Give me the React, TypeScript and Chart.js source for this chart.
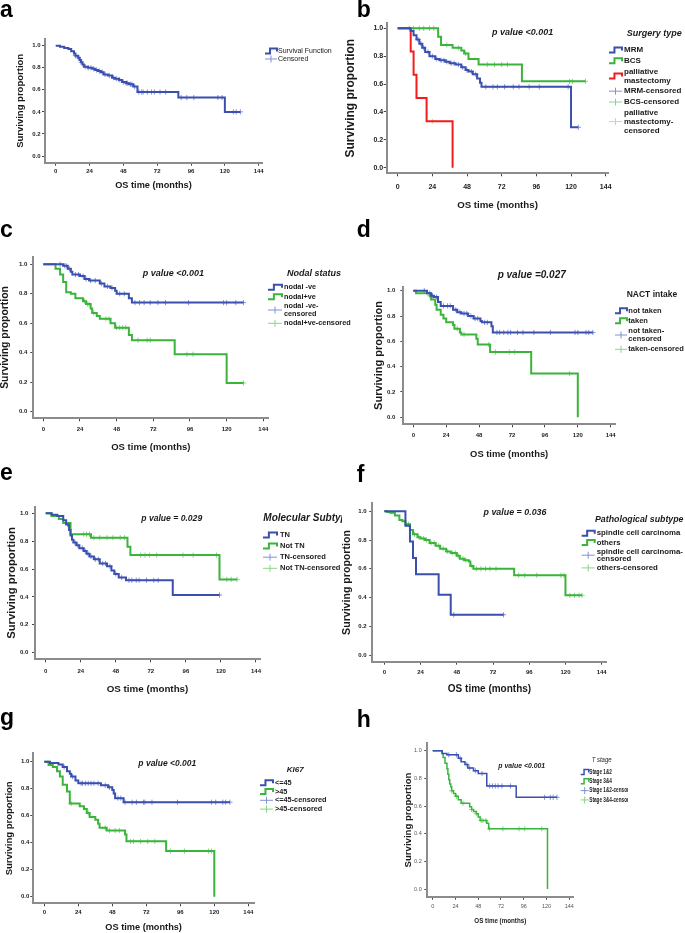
import React, { useEffect, useRef } from 'react';
import { Chart, registerables } from 'chart.js';

Chart.register(...registerables);

const FONT = "'Liberation Sans', Arial, Helvetica, sans-serif";

const X_TICKS = [0, 24, 48, 72, 96, 120, 144];
const Y_TICKS = [0, 0.2, 0.4, 0.6, 0.8, 1.0];
const X_TITLE = 'OS time (months)';
const Y_TITLE = 'Surviving proportion';

// ---------- a: overall survival ----------
const A_T = [0, 3, 6, 9, 11, 13, 14, 16, 17, 18, 19, 20, 23, 26, 28, 30, 32, 34, 37, 40, 42, 45, 47, 50, 52, 55, 58, 87, 120];
const A_S = [1, 0.99, 0.98, 0.97, 0.95, 0.93, 0.91, 0.89, 0.87, 0.85, 0.83, 0.81, 0.8, 0.79, 0.78, 0.77, 0.76, 0.74, 0.73, 0.71, 0.7, 0.69, 0.67, 0.66, 0.65, 0.63, 0.58, 0.53, 0.4];
const A_C = [14, 16, 18, 21, 23, 25, 27, 29, 31, 33, 35, 38, 41, 43, 45, 48, 50, 51, 53, 54, 56, 59, 61, 62, 65, 68, 70, 74, 78, 89, 93, 98, 115, 118, 126, 128, 131];

// ---------- b: surgery type ----------
const B_MRM_T = [0, 9, 11, 13, 15, 17, 19, 22, 26, 29, 33, 36, 40, 44, 47, 49, 52, 55, 57, 58, 120];
const B_MRM_S = [1, 0.98, 0.95, 0.92, 0.89, 0.86, 0.83, 0.8, 0.78, 0.77, 0.76, 0.75, 0.74, 0.72, 0.7, 0.69, 0.67, 0.64, 0.61, 0.58, 0.29];
const B_MRM_C = [14, 16, 18, 21, 24, 27, 30, 32, 34, 37, 39, 42, 45, 48, 51, 54, 61, 66, 69, 74, 80, 84, 91, 98, 118, 125];
const B_BCS_T = [0, 28, 30, 38, 44, 46, 49, 56, 86];
const B_BCS_S = [1, 0.94, 0.88, 0.86, 0.84, 0.82, 0.78, 0.74, 0.62];
const B_BCS_C = [8, 11, 15, 18, 22, 25, 34, 42, 47, 62, 67, 72, 76, 119, 121, 130];
const B_PAL_T = [0, 9, 11, 13, 20, 38];
const B_PAL_S = [1, 0.833, 0.667, 0.5, 0.333, 0];
const B_PAL_C = [24];

// ---------- c: nodal status ----------
const C_NEG_T = [0, 13, 16, 18, 19, 24, 27, 30, 37, 40, 44, 47, 48, 56, 58];
const C_NEG_S = [1, 0.99, 0.97, 0.95, 0.93, 0.92, 0.9, 0.89, 0.87, 0.85, 0.84, 0.82, 0.8, 0.77, 0.74];
const C_NEG_C = [11, 14, 15, 17, 21, 23, 26, 28, 31, 34, 38, 42, 45, 50, 53, 60, 63, 66, 70, 75, 80, 95, 118, 120, 126, 131];
const C_POS_T = [0, 8, 11, 13, 15, 18, 21, 26, 28, 31, 32, 35, 37, 44, 47, 56, 58, 86, 120];
const C_POS_S = [1, 0.97, 0.93, 0.88, 0.81, 0.8, 0.77, 0.75, 0.73, 0.7, 0.67, 0.65, 0.63, 0.6, 0.57, 0.52, 0.485, 0.39, 0.195];
const C_POS_C = [27, 29, 30, 33, 41, 43, 48, 50, 52, 54, 62, 68, 70, 94, 98, 131];

// ---------- d: NACT intake ----------
const D_NOT_T = [0, 10, 13, 15, 18, 20, 29, 32, 35, 40, 44, 49, 50, 57, 58];
const D_NOT_S = [1, 0.98, 0.96, 0.95, 0.91, 0.88, 0.85, 0.83, 0.82, 0.8, 0.78, 0.76, 0.75, 0.72, 0.67];
const D_NOT_C = [8, 12, 14, 17, 22, 25, 27, 31, 34, 37, 39, 42, 45, 47, 52, 54, 61, 63, 66, 69, 71, 76, 80, 88, 100, 118, 120, 126, 128, 131];
const D_TAK_T = [0, 2, 12, 13, 16, 17, 20, 22, 24, 29, 30, 34, 35, 46, 47, 56, 86, 120];
const D_TAK_S = [1, 0.98, 0.96, 0.93, 0.89, 0.85, 0.81, 0.78, 0.75, 0.73, 0.7, 0.67, 0.655, 0.62, 0.575, 0.515, 0.345, 0];
const D_TAK_C = [12, 32, 37, 55, 60, 70, 74, 114];

// ---------- e: molecular subtype ----------
const E_TN_T = [0, 4, 8, 12, 14, 16, 17, 18, 19, 21, 23, 26, 28, 30, 33, 37, 42, 45, 47, 50, 55, 87];
const E_TN_S = [1, 0.99, 0.98, 0.95, 0.92, 0.88, 0.84, 0.81, 0.79, 0.77, 0.75, 0.73, 0.71, 0.69, 0.67, 0.64, 0.62, 0.59, 0.565, 0.54, 0.52, 0.414];
const E_TN_C = [15, 20, 22, 25, 27, 29, 31, 34, 36, 39, 41, 44, 48, 52, 57, 59, 62, 64, 69, 74, 77, 119];
const E_NTN_T = [0, 4, 9, 12, 17, 31, 56, 58, 119];
const E_NTN_S = [1, 0.98, 0.96, 0.93, 0.85, 0.825, 0.76, 0.7, 0.526];
const E_NTN_C = [26, 28, 30, 33, 37, 42, 46, 51, 54, 65, 68, 71, 76, 94, 101, 117, 124, 127, 131];

// ---------- f: pathological subtype ----------
const F_SP_T = [0, 14, 17, 19, 21, 36, 44];
const F_SP_S = [1, 0.9, 0.79, 0.675, 0.5625, 0.42, 0.28];
const F_SP_C = [46, 79];
const F_OT_T = [0, 2, 4, 7, 10, 12, 14, 17, 19, 22, 24, 27, 30, 34, 37, 41, 44, 48, 50, 53, 56, 57, 59, 86, 120];
const F_OT_S = [1, 0.995, 0.99, 0.97, 0.94, 0.93, 0.91, 0.87, 0.84, 0.82, 0.81, 0.8, 0.78, 0.76, 0.74, 0.72, 0.71, 0.69, 0.67, 0.66, 0.65, 0.62, 0.6, 0.555, 0.415];
const F_OT_C = [16, 20, 23, 26, 28, 31, 33, 36, 39, 42, 45, 47, 49, 52, 54, 58, 61, 64, 67, 70, 74, 89, 93, 101, 117, 119, 123, 126, 129, 131];

// ---------- g: KI67 ----------
const G_LE_T = [0, 4, 10, 13, 16, 18, 19, 22, 24, 40, 45, 48, 49, 50, 56];
const G_LE_S = [1, 0.99, 0.98, 0.96, 0.93, 0.91, 0.89, 0.86, 0.84, 0.825, 0.81, 0.79, 0.765, 0.73, 0.7];
const G_LE_C = [14, 20, 26, 27, 29, 31, 33, 35, 38, 43, 46, 52, 54, 57, 62, 65, 70, 71, 76, 94, 118, 121, 126, 128, 131];
const G_GT_T = [0, 3, 6, 9, 11, 13, 16, 18, 25, 28, 30, 32, 36, 38, 39, 44, 57, 58, 86, 120];
const G_GT_S = [1, 0.975, 0.96, 0.93, 0.89, 0.83, 0.78, 0.69, 0.67, 0.65, 0.62, 0.59, 0.57, 0.54, 0.51, 0.49, 0.46, 0.41, 0.338, 0];
const G_GT_C = [19, 31, 43, 46, 50, 53, 61, 63, 68, 73, 78, 89, 99, 116, 118];

// ---------- h: T stage ----------
const H_12_T = [0, 10, 15, 27, 30, 34, 37, 43, 48, 57, 88];
const H_12_S = [1, 0.98, 0.97, 0.945, 0.92, 0.9, 0.875, 0.855, 0.835, 0.745, 0.663];
const H_12_C = [17, 25, 29, 36, 39, 45, 52, 60, 63, 66, 69, 73, 82, 118, 124, 127, 131];
const H_34_T = [0, 10, 11, 13, 15, 16, 17, 18, 19, 20, 22, 24, 27, 30, 39, 41, 43, 46, 48, 50, 57, 59, 121];
const H_34_S = [1, 0.98, 0.95, 0.91, 0.87, 0.83, 0.79, 0.76, 0.74, 0.71, 0.69, 0.67, 0.645, 0.62, 0.595, 0.575, 0.56, 0.545, 0.52, 0.495, 0.475, 0.435, 0];
const H_34_C = [20, 25, 32, 41, 46, 51, 53, 56, 60, 74, 91, 97, 115];

// ---------- colours ----------
const BLUE = '#3a4fae';
const BLUE_C = '#8092da';
const GREEN = '#3ab43a';
const GREEN_C = '#86d686';
const RED = '#f21c1c';
const TAN_C = '#dccf9c';
const AXIS = '#8c8c8c';
const TICK = '#444444';
const INK = '#1a1a1a';

function survAt(t: number[], s: number[], x: number) {
  let v = s[0];
  for (let i = 0; i < t.length; i++) if (t[i] <= x) v = s[i];
  return v;
}

function linePoints(g: any) {
  const pts = g.t.map((t: number, i: number) => ({ x: t, y: g.s[i] }));
  const lastT = g.t[g.t.length - 1];
  const end = Math.max(lastT, ...g.c);
  if (end > lastT) pts.push({ x: end, y: g.s[g.s.length - 1] });
  return pts;
}

const grp = (t: number[], s: number[], c: number[], color: string, censColor: string) => ({ t, s, c, color, censColor });

const PANELS: any[] = [
  {
    letter: 'a', letterX: 0, letterY: 17,
    canvas: [0, 0, 345, 230],
    geo: { L: 45, R: 262, T: 39, B: 162.7, x0: 55.7, x144: 258.7, y1: 45.7, y0: 156 },
    ticks: { size: 6, weight: 'bold', color: '#222', yGap: 4.3, xOff: 9 },
    xTitle: { y: 185.7, size: 9.2 }, yTitle: { x: 20, size: 9.5 },
    lineW: 2,
    groups: [grp(A_T, A_S, A_C, BLUE, BLUE_C)],
    pValue: null,
    legend: {
      title: null,
      glyphX: 265, glyphW: 12, textX: 278, y0: 51, lh: 8, gap: 0, font: `7px ${FONT}`, sx: 1,
      items: [
        { kind: 'step', color: BLUE, lines: ['Survival Function'] },
        { kind: 'cens', color: BLUE_C, lines: ['Censored'] },
      ],
    },
  },
  {
    letter: 'b', letterX: 356.7, letterY: 16.7,
    canvas: [340, 0, 345, 230],
    geo: { L: 386.7, R: 608.3, T: 23, B: 173.3, x0: 397.7, x144: 605.7, y1: 28.3, y0: 167.7 },
    ticks: { size: 7, weight: 'bold', color: '#222', yGap: 3.5, xOff: 13.4 },
    xTitle: { y: 205.7, size: 9.7 }, yTitle: { x: 351, size: 12 },
    lineW: 2,
    groups: [
      grp(B_MRM_T, B_MRM_S, B_MRM_C, BLUE, BLUE_C),
      grp(B_BCS_T, B_BCS_S, B_BCS_C, GREEN, GREEN_C),
      grp(B_PAL_T, B_PAL_S, B_PAL_C, RED, TAN_C),
    ],
    pValue: { text: 'p value <0.001', x: 522.7, y: 32.3, font: `italic bold 9px ${FONT}`, sx: 1 },
    legend: {
      title: { text: 'Surgery type', x: 626.7, y: 33.3, font: `italic bold 9px ${FONT}`, sx: 1 },
      glyphX: 609, glyphW: 13, textX: 624, y0: 50, lh: 8.8, gap: 2, font: `bold 8px ${FONT}`, sx: 1,
      items: [
        { kind: 'step', color: BLUE, lines: ['MRM'] },
        { kind: 'step', color: GREEN, lines: ['BCS'] },
        { kind: 'step', color: RED, lines: ['palliative', 'mastectomy'] },
        { kind: 'cens', color: BLUE_C, lines: ['MRM-censored'] },
        { kind: 'cens', color: GREEN_C, lines: ['BCS-censored'] },
        { kind: 'cens', color: TAN_C, lines: ['palliative', 'mastectomy-', 'censored'] },
      ],
    },
  },
  {
    letter: 'c', letterX: 0, letterY: 236.5,
    canvas: [0, 212, 352, 248],
    geo: { L: 33.3, R: 268.3, T: 256.7, B: 418.3, x0: 43.3, x144: 263.3, y1: 264.3, y0: 411.7 },
    ticks: { size: 6, weight: 'bold', color: '#222', yGap: 6, xOff: 10.7 },
    xTitle: { y: 447, size: 9.5 }, yTitle: { x: 5.5, size: 10.4 },
    lineW: 2,
    groups: [
      grp(C_NEG_T, C_NEG_S, C_NEG_C, BLUE, BLUE_C),
      grp(C_POS_T, C_POS_S, C_POS_C, GREEN, GREEN_C),
    ],
    pValue: { text: 'p value <0.001', x: 173.3, y: 273.3, font: `italic bold 9px ${FONT}`, sx: 1 },
    legend: {
      title: { text: 'Nodal status', x: 287, y: 274, font: `italic bold 9px ${FONT}`, sx: 1 },
      glyphX: 268, glyphW: 14, textX: 284, y0: 287.3, lh: 7.8, gap: 1.6, font: `bold 7.3px ${FONT}`, sx: 1,
      items: [
        { kind: 'step', color: BLUE, lines: ['nodal -ve'] },
        { kind: 'step', color: GREEN, lines: ['nodal+ve'] },
        { kind: 'cens', color: BLUE_C, lines: ['nodal -ve-', 'censored'] },
        { kind: 'cens', color: GREEN_C, lines: ['nodal+ve-censored'] },
      ],
    },
  },
  {
    letter: 'd', letterX: 356.7, letterY: 236.7,
    canvas: [350, 212, 335, 248],
    geo: { L: 403.3, R: 615, T: 286.7, B: 424.3, x0: 413.3, x144: 610.7, y1: 290.7, y0: 417.3 },
    ticks: { size: 6, weight: 'bold', color: '#222', yGap: 8, xOff: 11.4 },
    xTitle: { y: 454, size: 9.4 }, yTitle: { x: 379.3, size: 11 },
    lineW: 2,
    groups: [
      grp(D_NOT_T, D_NOT_S, D_NOT_C, BLUE, BLUE_C),
      grp(D_TAK_T, D_TAK_S, D_TAK_C, GREEN, GREEN_C),
    ],
    pValue: { text: 'p value =0.027', x: 531.7, y: 275, font: `italic bold 10px ${FONT}`, sx: 1 },
    legend: {
      title: { text: 'NACT intake', x: 626.7, y: 295, font: `bold 8.5px ${FONT}`, sx: 1 },
      glyphX: 615, glyphW: 12, textX: 628.3, y0: 310.7, lh: 8.6, gap: 1.4, font: `bold 7.5px ${FONT}`, sx: 1,
      items: [
        { kind: 'step', color: BLUE, lines: ['not taken'] },
        { kind: 'step', color: GREEN, lines: ['taken'] },
        { kind: 'cens', color: BLUE_C, lines: ['not taken-', 'censored'] },
        { kind: 'cens', color: GREEN_C, lines: ['taken-censored'] },
      ],
    },
  },
  {
    letter: 'e', letterX: 0, letterY: 480,
    canvas: [0, 450, 342, 250],
    geo: { L: 35, R: 260, T: 506.7, B: 659.3, x0: 45.7, x144: 256, y1: 513.3, y0: 652.7 },
    ticks: { size: 6, weight: 'bold', color: '#222', yGap: 6.7, xOff: 12.4 },
    xTitle: { y: 689, size: 9.8 }, yTitle: { x: 11.7, size: 11.3 },
    lineW: 2,
    groups: [
      grp(E_TN_T, E_TN_S, E_TN_C, BLUE, BLUE_C),
      grp(E_NTN_T, E_NTN_S, E_NTN_C, GREEN, GREEN_C),
    ],
    pValue: { text: 'p value = 0.029', x: 171.7, y: 519, font: `italic bold 8.6px ${FONT}`, sx: 1 },
    legend: {
      title: { text: 'Molecular Subtype', x: 263.3, y: 518.3, font: `italic bold 10px ${FONT}`, sx: 1 },
      glyphX: 263, glyphW: 14, textX: 280, y0: 535, lh: 11.1, gap: 0, font: `bold 7.5px ${FONT}`, sx: 1,
      items: [
        { kind: 'step', color: BLUE, lines: ['TN'] },
        { kind: 'step', color: GREEN, lines: ['Not TN'] },
        { kind: 'cens', color: BLUE_C, lines: ['TN-censored'] },
        { kind: 'cens', color: GREEN_C, lines: ['Not TN-censored'] },
      ],
    },
  },
  {
    letter: 'f', letterX: 356.7, letterY: 481.7,
    canvas: [342, 450, 343, 250],
    geo: { L: 372.3, R: 606.7, T: 503.3, B: 661.7, x0: 384.3, x144: 601.7, y1: 511.3, y0: 655 },
    ticks: { size: 6, weight: 'bold', color: '#222', yGap: 5.6, xOff: 11 },
    xTitle: { y: 689, size: 10 }, yTitle: { x: 347.3, size: 10.6 },
    lineW: 2,
    groups: [
      grp(F_SP_T, F_SP_S, F_SP_C, BLUE, BLUE_C),
      grp(F_OT_T, F_OT_S, F_OT_C, GREEN, GREEN_C),
    ],
    pValue: { text: 'p value = 0.036', x: 515, y: 512.3, font: `italic bold 8.9px ${FONT}`, sx: 1 },
    legend: {
      title: { text: 'Pathological subtype', x: 595, y: 520, font: `italic bold 8.8px ${FONT}`, sx: 1 },
      glyphX: 581.7, glyphW: 13, textX: 596.7, y0: 533.3, lh: 7, gap: 2.2, font: `bold 7.8px ${FONT}`, sx: 1,
      items: [
        { kind: 'step', color: BLUE, lines: ['spindle cell carcinoma'] },
        { kind: 'step', color: GREEN, lines: ['others'] },
        { kind: 'cens', color: BLUE_C, lines: ['spindle cell carcinoma-', 'censored'] },
        { kind: 'cens', color: GREEN_C, lines: ['others-censored'] },
      ],
    },
  },
  {
    letter: 'g', letterX: 0, letterY: 724.7,
    canvas: [0, 690, 345, 243],
    geo: { L: 33.3, R: 254, T: 753.3, B: 903.3, x0: 44.3, x144: 248.3, y1: 761.7, y0: 896.7 },
    ticks: { size: 6, weight: 'bold', color: '#222', yGap: 4, xOff: 9.4 },
    xTitle: { y: 927.7, size: 9.2 }, yTitle: { x: 9.3, size: 9.5 },
    lineW: 2,
    groups: [
      grp(G_LE_T, G_LE_S, G_LE_C, BLUE, BLUE_C),
      grp(G_GT_T, G_GT_S, G_GT_C, GREEN, GREEN_C),
    ],
    pValue: { text: 'p value <0.001', x: 167.3, y: 763.3, font: `italic bold 8.5px ${FONT}`, sx: 1 },
    legend: {
      title: { text: 'KI67', x: 286.7, y: 770, font: `italic bold 8px ${FONT}`, sx: 1 },
      glyphX: 260, glyphW: 13, textX: 275, y0: 782.7, lh: 8.8, gap: 0, font: `bold 7.3px ${FONT}`, sx: 1,
      items: [
        { kind: 'step', color: BLUE, lines: ['<=45'] },
        { kind: 'step', color: GREEN, lines: ['>45'] },
        { kind: 'cens', color: BLUE_C, lines: ['<=45-censored'] },
        { kind: 'cens', color: GREEN_C, lines: ['>45-censored'] },
      ],
    },
  },
  {
    letter: 'h', letterX: 356.7, letterY: 726.7,
    canvas: [340, 690, 345, 243],
    geo: { L: 427.3, R: 573.3, T: 743.3, B: 896.7, x0: 432.7, x144: 569.3, y1: 750.7, y0: 889 },
    ticks: { size: 5.5, weight: 'normal', color: '#555', yGap: 5.6, xOff: 9.3 },
    xTitle: { y: 921, size: 7.5, sx: 0.83 }, yTitle: { x: 408.3, size: 9.6 },
    lineW: 1.5,
    groups: [
      grp(H_12_T, H_12_S, H_12_C, BLUE, BLUE_C),
      grp(H_34_T, H_34_S, H_34_C, GREEN, GREEN_C),
    ],
    pValue: { text: 'p value <0.001', x: 521.7, y: 765.7, font: `italic bold 8px ${FONT}`, sx: 0.86 },
    legend: {
      title: { text: 'T stage', x: 591.7, y: 760, font: `italic 7px ${FONT}`, sx: 0.85 },
      clipR: 628,
      glyphX: 580.7, glyphW: 8, textX: 589.3, y0: 772, lh: 9.3, gap: 0, font: `bold 6.5px ${FONT}`, sx: 0.72,
      items: [
        { kind: 'step', color: BLUE, lines: ['Stage 1&2'] },
        { kind: 'step', color: GREEN, lines: ['Stage 3&4'] },
        { kind: 'cens', color: BLUE_C, lines: ['Stage 1&2-censored'] },
        { kind: 'cens', color: GREEN_C, lines: ['Stage 3&4-censored'] },
      ],
    },
  },
];

function txt(ctx: CanvasRenderingContext2D, s: string, x: number, y: number, font: string, color: string,
  align: CanvasTextAlign, baseline: CanvasTextBaseline, sx = 1, rot = 0) {
  ctx.save();
  ctx.translate(x, y);
  if (rot) ctx.rotate(rot);
  ctx.scale(sx, 1);
  ctx.font = font;
  ctx.fillStyle = color;
  ctx.textAlign = align;
  ctx.textBaseline = baseline;
  ctx.fillText(s, 0, 0);
  ctx.restore();
}

function makeDecor(p: any) {
  return {
    id: 'kmDecor_' + p.letter,
    afterDraw(chart: any) {
      const ctx: CanvasRenderingContext2D = chart.ctx;
      const [ox, oy] = p.canvas;
      const ca = chart.chartArea;
      ctx.save();
      ctx.translate(-ox, -oy);
      // panel letter
      txt(ctx, p.letter, p.letterX, p.letterY, `bold 23px ${FONT}`, '#000', 'left', 'alphabetic');
      // axis titles
      const midX = (ca.left + ca.right) / 2 + ox;
      const midY = (ca.top + ca.bottom) / 2 + oy;
      txt(ctx, X_TITLE, midX, p.xTitle.y, `bold ${p.xTitle.size}px ${FONT}`, INK, 'center', 'middle', p.xTitle.sx || 1);
      txt(ctx, Y_TITLE, p.yTitle.x, midY, `bold ${p.yTitle.size}px ${FONT}`, INK, 'center', 'middle', 1, -Math.PI / 2);
      // p value
      if (p.pValue) {
        txt(ctx, p.pValue.text, p.pValue.x, p.pValue.y, p.pValue.font, INK, 'center', 'middle', p.pValue.sx);
      }
      // legend
      const lg = p.legend;
      ctx.save();
      if (lg.clipR) {
        ctx.beginPath();
        ctx.rect(0, 0, lg.clipR, 2000);
        ctx.clip();
      }
      if (lg.title) {
        txt(ctx, lg.title.text, lg.title.x, lg.title.y, lg.title.font, INK, 'left', 'middle', lg.title.sx);
      }
      let y = lg.y0;
      lg.items.forEach((it: any) => {
        const n = it.lines.length;
        const gy = y + ((n - 1) * lg.lh) / 2;
        const gx = lg.glyphX;
        const w = lg.glyphW;
        ctx.save();
        ctx.strokeStyle = it.color;
        ctx.beginPath();
        if (it.kind === 'step') {
          ctx.lineWidth = p.lineW;
          ctx.moveTo(gx, gy + 2.5);
          ctx.lineTo(gx + w * 0.42, gy + 2.5);
          ctx.lineTo(gx + w * 0.42, gy - 2.5);
          ctx.lineTo(gx + w, gy - 2.5);
          ctx.lineTo(gx + w, gy + 0.5);
        } else {
          ctx.lineWidth = 1;
          ctx.moveTo(gx, gy);
          ctx.lineTo(gx + w, gy);
          ctx.moveTo(gx + w / 2, gy - 3.5);
          ctx.lineTo(gx + w / 2, gy + 3.5);
        }
        ctx.stroke();
        ctx.restore();
        it.lines.forEach((ln: string, i: number) => {
          txt(ctx, ln, lg.textX, y + i * lg.lh, lg.font, INK, 'left', 'middle', lg.sx);
        });
        y += n * lg.lh + lg.gap;
      });
      ctx.restore();
      ctx.restore();
    },
  };
}

function KMPanel({ p }: { p: any }) {
  const ref = useRef<HTMLCanvasElement>(null);
  const [cx, cy, cw, ch] = p.canvas;
  useEffect(() => {
    const g = p.geo;
    const ppmX = (g.x144 - g.x0) / 144;
    const ppuY = g.y0 - g.y1;
    const xMin = -(g.x0 - g.L) / ppmX;
    const xMax = 144 + (g.R - g.x144) / ppmX;
    const yMax = 1 + (g.y1 - g.T) / ppuY;
    const yMin = -(g.B - g.y0) / ppuY;
    // axis boxes take the whole margin so tick labels are never clipped
    const WY = g.L - cx;
    const HX = cy + ch - g.B;
    const TL = 3;
    const datasets: any[] = [];
    p.groups.forEach((gr: any) => {
      datasets.push({
        type: 'line', data: linePoints(gr), stepped: 'before', borderColor: gr.color,
        borderWidth: p.lineW, pointRadius: 0, fill: false, tension: 0,
      });
    });
    p.groups.forEach((gr: any) => {
      datasets.push({
        type: 'line',
        data: gr.c.map((t: number) => ({ x: t, y: survAt(gr.t, gr.s, t) })),
        showLine: false, pointStyle: 'cross', pointRadius: 2.6,
        pointBorderColor: gr.censColor, pointBackgroundColor: gr.censColor, pointBorderWidth: 1,
      });
    });
    const tickFont = { family: FONT, size: p.ticks.size, weight: p.ticks.weight };
    const common = {
      type: 'linear',
      grid: { display: true, drawOnChartArea: false, drawTicks: true, tickLength: TL, tickColor: TICK, tickWidth: 1 },
      border: { display: true, color: AXIS, width: 2 },
    };
    const chart = new Chart(ref.current as HTMLCanvasElement, {
      type: 'line',
      data: { datasets },
      options: {
        animation: false,
        responsive: false,
        devicePixelRatio: 1,
        events: [],
        layout: {
          padding: { left: 0, top: g.T - cy, right: cx + cw - g.R, bottom: 0 },
        },
        plugins: { legend: { display: false }, tooltip: { enabled: false }, title: { display: false } },
        scales: {
          x: {
            ...common,
            min: xMin, max: xMax,
            afterBuildTicks: (s: any) => { s.ticks = X_TICKS.map((v) => ({ value: v })); },
            afterFit: (s: any) => { s.height = HX; },
            ticks: {
              font: tickFont, color: p.ticks.color,
              padding: p.ticks.xOff - TL - (p.ticks.size * 1.2) / 2,
              maxRotation: 0, minRotation: 0, autoSkip: false,
              callback: (v: any) => String(v),
            },
          },
          y: {
            ...common,
            min: yMin, max: yMax,
            afterBuildTicks: (s: any) => { s.ticks = Y_TICKS.map((v) => ({ value: v })); },
            afterFit: (s: any) => { s.width = WY; },
            ticks: {
              font: tickFont, color: p.ticks.color,
              padding: p.ticks.yGap - TL,
              autoSkip: false,
              callback: (v: any) => Number(v).toFixed(1),
            },
          },
        },
      } as any,
      plugins: [makeDecor(p)],
    } as any);
    return () => chart.destroy();
  }, [p]);
  return (
    <canvas
      ref={ref}
      width={cw}
      height={ch}
      style={{ position: 'absolute', left: cx, top: cy, width: cw, height: ch, display: 'block' }}
    />
  );
}

export default function App() {
  return (
    <div style={{ position: 'absolute', left: 0, top: 0, width: 685, height: 933, background: '#ffffff', overflow: 'hidden' }}>
      {PANELS.map((p) => (
        <KMPanel key={p.letter} p={p} />
      ))}
    </div>
  );
}
